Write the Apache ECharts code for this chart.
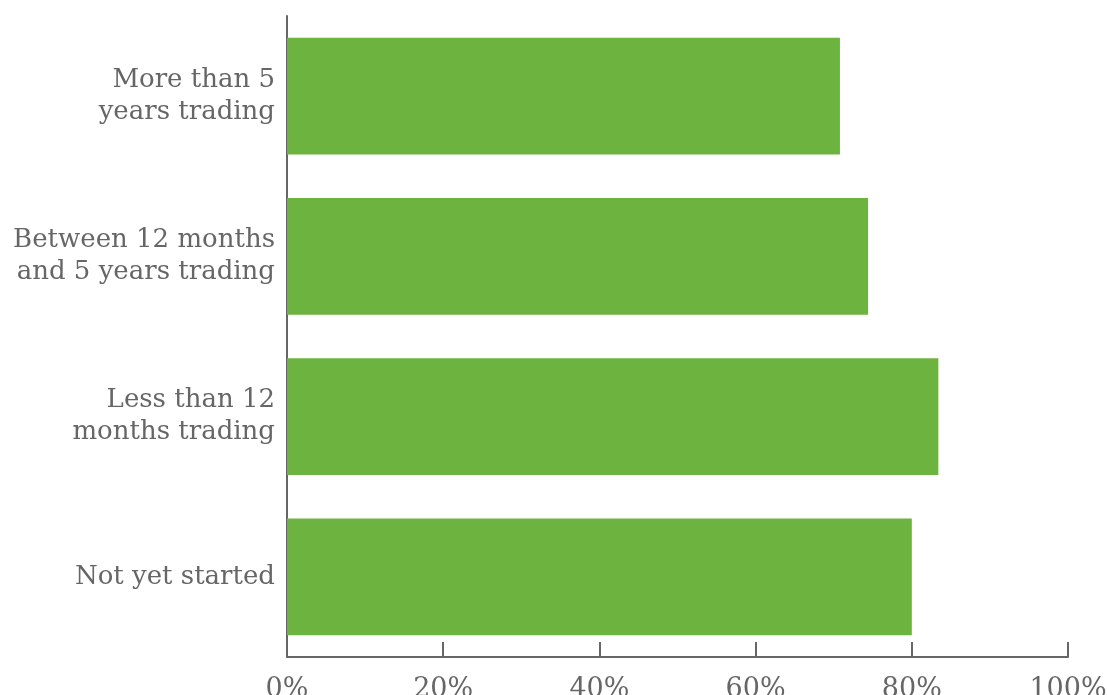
<!DOCTYPE html>
<html>
<head>
<meta charset="utf-8">
<script src="https://cdn.jsdelivr.net/npm/echarts@6/dist/echarts.min.js"></script>
<style>
  html, body { margin: 0; padding: 0; background: #fff; }
  #chart { width: 1107px; height: 695px; }
</style>
</head>
<body>
<div id="chart"></div>
<script>
// categories listed top to bottom
const categories = [
    'More than 5\nyears trading',
    'Between 12 months\nand 5 years trading',
    'Less than 12\nmonths trading',
    'Not yet started'
];
const shares = [70.8, 74.4, 83.4, 80.0];
const xTicks = [0, 20, 40, 60, 80, 100];

const font = '"DejaVu Serif", serif';
const grey = '#666666';

let myChart = echarts.init(document.getElementById('chart'));
let option = {
    animation: false,
    grid: {
        left: 287,
        right: 39,
        top: 16,
        bottom: 38,
        outerBoundsMode: 'none'
    },
    xAxis: {
        type: 'value',
        min: xTicks[0],
        max: xTicks[xTicks.length - 1],
        interval: 20,
        axisLine: { show: true, lineStyle: { color: grey, width: 2 } },
        axisTick: { show: true, inside: true, length: 15, lineStyle: { color: grey, width: 2 } },
        axisLabel: {
            color: grey,
            fontFamily: font,
            fontSize: 27,
            margin: 19,
            formatter: v => v + '%'
        },
        splitLine: { show: false }
    },
    yAxis: {
        type: 'category',
        data: categories,
        inverse: true,
        axisLine: { show: true, lineStyle: { color: grey, width: 2 } },
        axisTick: { show: false },
        axisLabel: {
            color: grey,
            fontFamily: font,
            fontSize: 26,
            lineHeight: 32,
            margin: 12,
            padding: [6, 0, 0, 0],
            align: 'right'
        }
    },
    series: [
        {
            type: 'bar',
            data: shares,
            barCategoryGap: '27%',
            itemStyle: { color: '#6db33f' }
        }
    ]
};
myChart.setOption(option);
</script>
</body>
</html>
